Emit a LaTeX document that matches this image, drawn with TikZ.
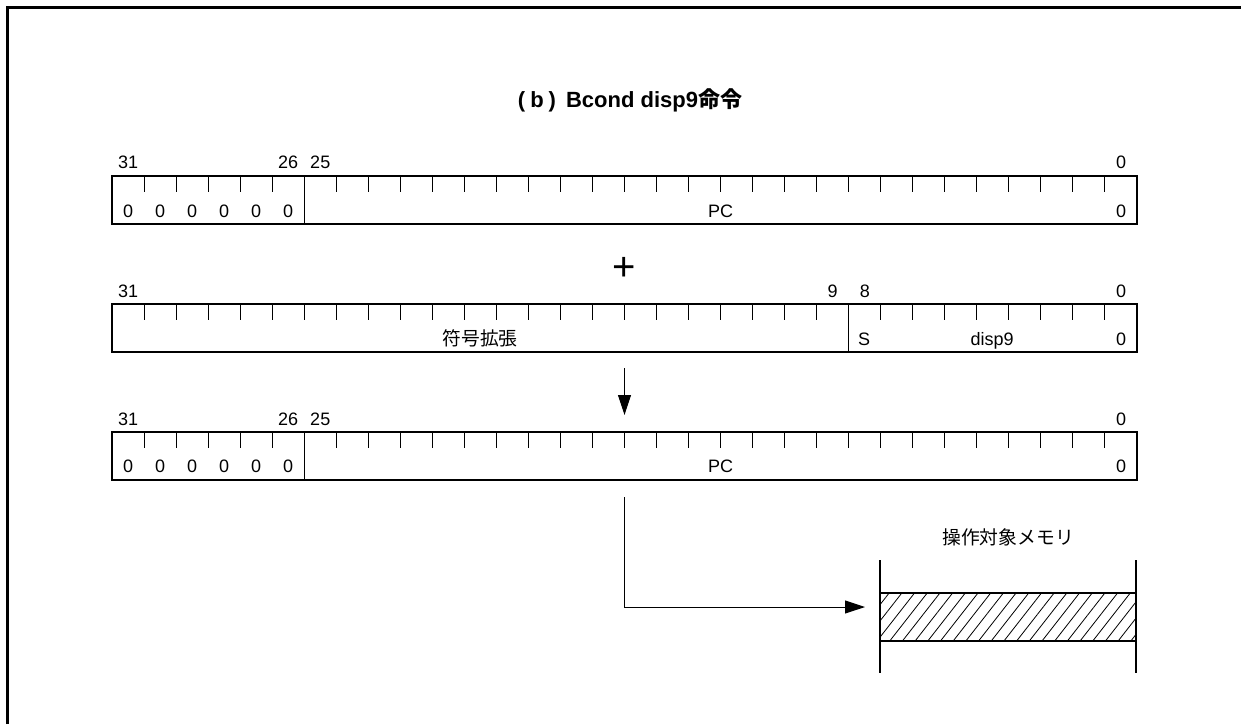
\documentclass[tikz,border=0pt]{standalone}
\usepackage{fontspec}
\setmainfont{Liberation Sans}
\newfontfamily\jp{Noto Sans CJK JP}
\usetikzlibrary{arrows.meta,calc,patterns.meta}
\tikzset{
  reg/.style={draw, line width=1.25pt, minimum width=512.5pt, minimum height=24pt, inner sep=0pt, outer sep=0pt},
  memcell/.style={draw, line width=1.25pt, minimum width=128pt, minimum height=24pt, inner sep=0pt, outer sep=0pt, pattern={Lines[angle=52, distance=5pt, line width=0.4pt]}},
  bitno/.style={font=\fontsize{9}{11}\selectfont, inner sep=0pt, anchor=base},
  fieldtxt/.style={font=\fontsize{9}{11}\selectfont, inner sep=0pt, anchor=base},
  jptxt/.style={font=\fontsize{9.4}{11}\selectfont\jp, inner sep=0pt, anchor=base},
  titletxt/.style={font=\fontsize{11}{13}\selectfont\bfseries, inner sep=0pt},
  bittick/.style={line width=0.5pt},
  flow/.style={-{Triangle[length=10pt, width=6.5pt]}, line width=0.5pt},
  wall/.style={line width=1.25pt}
}

\begin{document}
\begin{tikzpicture}[x=0.5pt,y=-0.5pt]
  \useasboundingbox (0,0) rectangle (1241,724);
  \draw[line width=1.5pt] (7,724) -- (7,7) -- (1241,7);

  \node[titletxt] (title) at (630,100) {(\hspace{2.5pt}b\hspace{2.5pt})\hspace{5pt}Bcond disp9{\jp 命令}};

  % PC before
  \node[reg] (reg1) at (624.5,200) {};
  \foreach \b in {1,...,25,27,28,29,30,31}
    \draw[bittick] (1137-\b*32.03,176) -- ++(0,16);
  \draw[bittick] (1137-26*32.03,176) -- (1137-26*32.03,224);
  \foreach \b/\t in {31/31,26/26,25/25,0/0}
    \node[bitno] (a\b) at (1121-\b*32.03,168) {\t};
  \foreach \b in {26,...,31}
    \node[fieldtxt] (az\b) at (1121-\b*32.03,217) {0};
  \node[fieldtxt] (apc) at (720.5,217) {PC};
  \node[fieldtxt] (a0f) at (1121,217) {0};

  \node[font=\fontsize{20}{20}\selectfont, inner sep=0pt] (plus) at (624,269) {+};

  % disp9, sign extended
  \node[reg] (reg2) at (624.5,328) {};
  \foreach \b in {1,...,8,10,11,...,31}
    \draw[bittick] (1137-\b*32.03,304) -- ++(0,16);
  \draw[bittick] (1137-9*32.03,304) -- (1137-9*32.03,352);
  \foreach \b/\t in {31/31,9/9,8/8,0/0}
    \node[bitno] (b\b) at (1121-\b*32.03,297) {\t};
  \node[jptxt] (bsx) at (480,345) {符号拡張};
  \node[fieldtxt] (bs) at (864,345) {S};
  \node[fieldtxt] (bdisp) at (992,345) {disp9};
  \node[fieldtxt] (b0f) at (1121,345) {0};

  % PC after
  \node[reg] (reg3) at (624.5,456) {};
  \foreach \b in {1,...,25,27,28,29,30,31}
    \draw[bittick] (1137-\b*32.03,432) -- ++(0,16);
  \draw[bittick] (1137-26*32.03,432) -- (1137-26*32.03,480);
  \foreach \b/\t in {31/31,26/26,25/25,0/0}
    \node[bitno] (c\b) at (1121-\b*32.03,425) {\t};
  \foreach \b in {26,...,31}
    \node[fieldtxt] (cz\b) at (1121-\b*32.03,472) {0};
  \node[fieldtxt] (cpc) at (720.5,472) {PC};
  \node[fieldtxt] (c0f) at (1121,472) {0};

  \draw[flow] ([yshift=-8pt]reg2.south) -- ([yshift=8.5pt]reg3.north);

  % memory
  \node[jptxt] (memlabel) at (1008,544) {操作対象メモリ};
  \node[memcell] (mem) at (1008,617) {};
  \draw[wall] ([yshift=16.5pt]mem.north west) -- ([yshift=-16pt]mem.south west);
  \draw[wall] ([yshift=16.5pt]mem.north east) -- ([yshift=-16pt]mem.south east);

  \draw[flow] ([yshift=-8.5pt]reg3.south) |- ([xshift=-7.5pt,yshift=5pt]mem.west);
\end{tikzpicture}
\end{document}
